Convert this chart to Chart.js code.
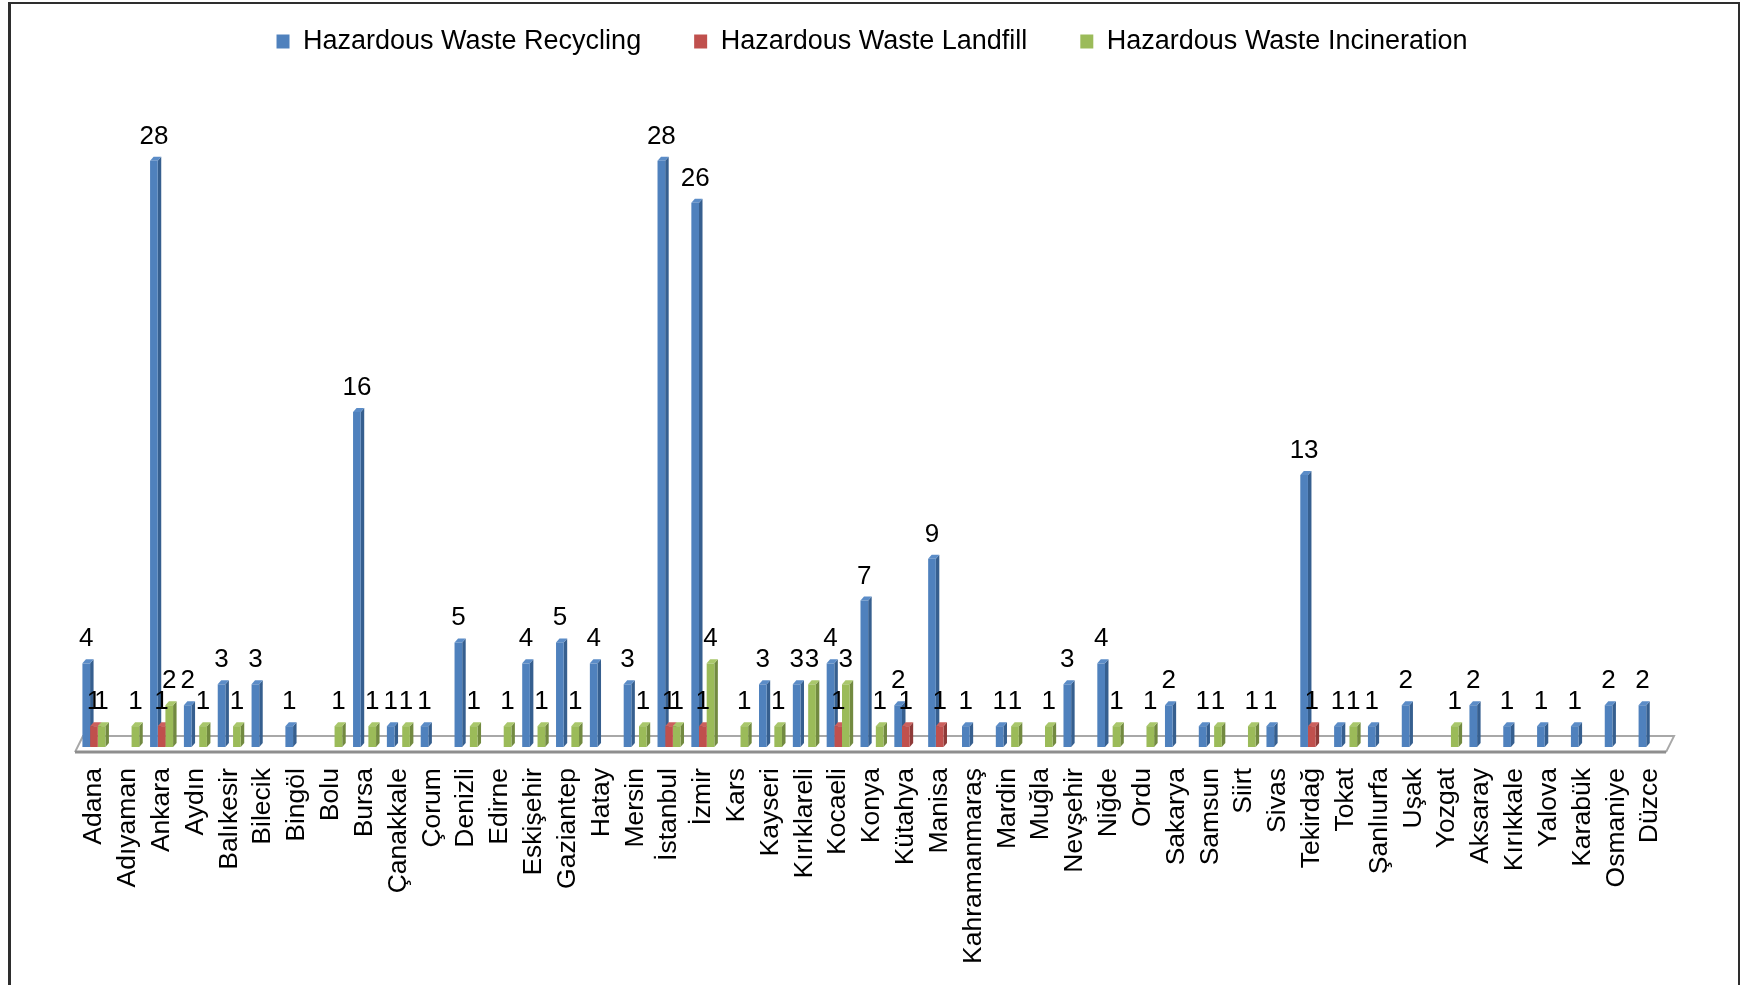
<!DOCTYPE html>
<html>
<head>
<meta charset="utf-8">
<title>Hazardous waste facilities by province</title>
<script src="https://cdn.jsdelivr.net/npm/chart.js@4.4.1/dist/chart.umd.min.js"></script>
<style>
  html, body { margin: 0; padding: 0; background: #fff; }
  #wrap { position: relative; width: 1742px; height: 985px; overflow: hidden; }
  #frame {
    position: absolute; left: 8px; top: 2px; width: 1732px; height: 995px;
    border-left: 3px solid #2e2e2e; border-top: 2px solid #2e2e2e; border-right: 2px solid #2e2e2e;
    box-sizing: border-box; pointer-events: none;
  }
</style>
</head>
<body>
<div id="wrap">
  <canvas id="chart"></canvas>
  <div id="frame"></div>
</div>
<script>
// ---- data -------------------------------------------------------------
const provinces = [
  'Adana', 'Adıyaman', 'Ankara', 'Aydın', 'Balıkesir', 'Bilecik', 'Bingöl', 'Bolu',
  'Bursa', 'Çanakkale', 'Çorum', 'Denizli', 'Edirne', 'Eskişehir', 'Gaziantep', 'Hatay',
  'Mersin', 'İstanbul', 'İzmir', 'Kars', 'Kayseri', 'Kırıklareli', 'Kocaeli', 'Konya',
  'Kütahya', 'Manisa', 'Kahramanmaraş', 'Mardin', 'Muğla', 'Nevşehir', 'Niğde', 'Ordu',
  'Sakarya', 'Samsun', 'Siirt', 'Sivas', 'Tekirdağ', 'Tokat', 'Şanlıurfa', 'Uşak',
  'Yozgat', 'Aksaray', 'Kırıkkale', 'Yalova', 'Karabük', 'Osmaniye', 'Düzce'
];

// null = no facility of that type in the province
const recycling = [
  4, null, 28, 2, 3, 3, 1, null,
  16, 1, 1, 5, null, 4, 5, 4,
  3, 28, 26, null, 3, 3, 4, 7,
  2, 9, 1, 1, null, 3, 4, null,
  2, 1, null, 1, 13, 1, 1, 2,
  null, 2, 1, 1, 1, 2, 2
];
const landfill = [
  1, null, 1, null, null, null, null, null,
  null, null, null, null, null, null, null, null,
  null, 1, 1, null, null, null, 1, null,
  1, 1, null, null, null, null, null, null,
  null, null, null, null, 1, null, null, null,
  null, null, null, null, null, null, null
];
const incineration = [
  1, 1, 2, 1, 1, null, null, 1,
  1, 1, null, 1, 1, 1, 1, null,
  1, 1, 4, 1, 1, 3, 3, 1,
  null, null, null, 1, 1, null, 1, 1,
  null, 1, 1, null, null, 1, null, null,
  1, null, null, null, null, null, null
];

const seriesNames = ['Hazardous Waste Recycling', 'Hazardous Waste Landfill', 'Hazardous Waste Incineration'];

// ---- look -------------------------------------------------------------
const FONT = "'Liberation Sans', Arial, sans-serif";
const DX = 3.5, DY = 4;           // bar depth offset
const palette = [
  { front: '#4f81bd', side: '#365f8f', top: '#5b8cc7' },
  { front: '#c0504d', side: '#8e3a38', top: '#cc605d' },
  { front: '#9bbb59', side: '#728a40', top: '#a9c76b' },
];

// legend sits higher than the chart area, leave a gap under it
const legendGap = {
  id: 'legendGap',
  beforeInit(chart) {
    const fit = chart.legend.fit;
    chart.legend.fit = function () { fit.call(this); this.height += 54; };
  }
};

// slanted floor under the columns
const floor3d = {
  id: 'floor3d',
  beforeDatasetsDraw(chart) {
    const { ctx, chartArea: a, scales: { y } } = chart;
    const base = y.getPixelForValue(0);
    const back = base - 11, front = base + 5;
    ctx.save();
    ctx.strokeStyle = '#a8a8a8';
    ctx.lineWidth = 2;
    ctx.beginPath();
    ctx.moveTo(a.left - 2, front);
    ctx.lineTo(a.left + 6, back);
    ctx.lineTo(a.right + 7, back);
    ctx.lineTo(a.right - 1, front);
    ctx.stroke();
    ctx.strokeStyle = '#8e8e8e';
    ctx.lineWidth = 3;
    ctx.beginPath();
    ctx.moveTo(a.left - 2, front);
    ctx.lineTo(a.right - 1, front);
    ctx.stroke();
    ctx.restore();
  }
};

// side and top faces, drawn before the fronts so the next column covers them
const barDepth = {
  id: 'barDepth',
  beforeDatasetsDraw(chart) {
    const ctx = chart.ctx;
    ctx.save();
    chart.data.datasets.forEach((ds, i) => {
      const c = palette[i];
      chart.getDatasetMeta(i).data.forEach((bar, j) => {
        if (ds.data[j] == null) return;
        const { x, y, base, width } = bar.getProps(['x', 'y', 'base', 'width'], true);
        const l = x - width / 2, r = x + width / 2;
        ctx.fillStyle = c.side;
        ctx.beginPath();
        ctx.moveTo(r, y); ctx.lineTo(r + DX, y - DY); ctx.lineTo(r + DX, base - DY); ctx.lineTo(r, base);
        ctx.closePath(); ctx.fill();
        ctx.fillStyle = c.top;
        ctx.beginPath();
        ctx.moveTo(l, y); ctx.lineTo(l + DX, y - DY); ctx.lineTo(r + DX, y - DY); ctx.lineTo(r, y);
        ctx.closePath(); ctx.fill();
      });
    });
    ctx.restore();
  }
};

// value above every column
const valueLabels = {
  id: 'valueLabels',
  afterDatasetsDraw(chart) {
    const ctx = chart.ctx;
    ctx.save();
    ctx.font = '26px ' + FONT;
    ctx.fillStyle = '#000';
    ctx.textAlign = 'center';
    ctx.textBaseline = 'alphabetic';
    chart.data.datasets.forEach((ds, i) => {
      chart.getDatasetMeta(i).data.forEach((bar, j) => {
        const v = ds.data[j];
        if (v == null) return;
        ctx.fillText(String(v), bar.x, bar.y - 17);
      });
    });
    ctx.restore();
  }
};

const makeSet = (i, data) => ({
  label: seriesNames[i],
  data,
  backgroundColor: palette[i].front,
  borderWidth: 0,
});

new Chart(document.getElementById('chart'), {
  type: 'bar',
  data: {
    labels: provinces,
    datasets: [makeSet(0, recycling), makeSet(1, landfill), makeSet(2, incineration)],
  },
  options: {
    responsive: true,
    maintainAspectRatio: false,
    animation: false,
    layout: { padding: { left: 77, right: 75, top: -25, bottom: 0 } },
    datasets: { bar: { categoryPercentage: 0.68, barPercentage: 1 } },
    plugins: {
      legend: {
        position: 'top',
        labels: {
          font: { family: FONT, size: 27 },
          color: '#000',
          boxWidth: 13,
          boxHeight: 14,
          padding: 53,
        },
      },
      tooltip: { enabled: false },
    },
    scales: {
      x: {
        grid: { display: false, drawTicks: false },
        border: { display: false },
        ticks: {
          autoSkip: false,
          minRotation: 90,
          maxRotation: 90,
          padding: 21,
          color: '#000',
          font: { family: FONT, size: 26.5 },
        },
      },
      y: { display: false, min: 0, max: 30 },
    },
  },
  plugins: [legendGap, floor3d, barDepth, valueLabels],
});
</script>
</body>
</html>
